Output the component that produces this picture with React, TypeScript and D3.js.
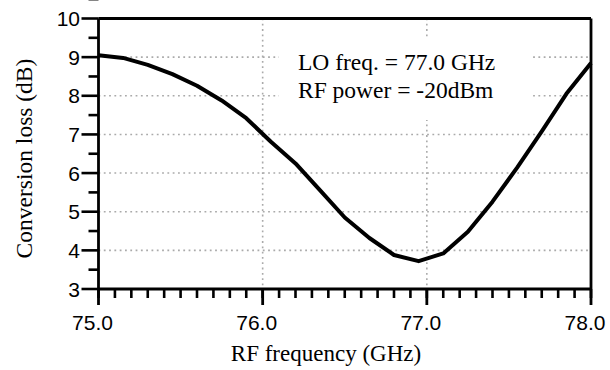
import React from "react";
import * as d3 from "d3";

const freqs = [75.0, 75.15, 75.3, 75.45, 75.6, 75.75, 75.9, 76.05, 76.2, 76.35, 76.5, 76.65, 76.8, 76.95, 77.1, 77.25, 77.4, 77.55, 77.7, 77.85, 78.0];
const loss = [9.05, 8.98, 8.8, 8.56, 8.26, 7.88, 7.42, 6.81, 6.25, 5.55, 4.85, 4.32, 3.88, 3.72, 3.92, 4.48, 5.26, 6.14, 7.08, 8.05, 8.85];
const xTickLabels = ["75.0", "76.0", "77.0", "78.0"];
const xMajor = [75, 76, 77, 78];
const yMajor = [3, 4, 5, 6, 7, 8, 9, 10];
const yGrid = [4, 5, 6, 7, 8, 9];
const xGrid = [76, 77];
const noteLines = ["LO freq. = 77.0 GHz", "RF power = -20dBm"];

const W = 610, H = 370;
const L = 98.5, R = 591, T = 18.5, B = 289;

export default function App() {
  const x = d3.scaleLinear().domain([75, 78]).range([L, R]);
  const y = d3.scaleLinear().domain([3, 10]).range([B, T]);
  const xMinor = d3.range(0, 31).map((i) => 75 + i * 0.1);
  const yMinor = d3.range(0, 8).map((i) => 3.5 + i);
  const line = d3.line<number>().x((_, i) => x(freqs[i])).y((d) => y(d));
  const sans = "'Liberation Sans', Arial, sans-serif";
  const serif = "'Liberation Serif', 'Times New Roman', serif";
  const grid = { stroke: "#aaaaaa", strokeWidth: 1.6, strokeDasharray: "1.8 3.5" };
  return (
    <svg width={W} height={H} style={{ position: "absolute", left: 0, top: 0, background: "#fff" }}>
      <defs>
        <clipPath id="clip75">
          <rect x={0} y={300} width={x(75) + 16} height={40} />
        </clipPath>
      </defs>
      <rect width={W} height={H} fill="#fff" />
      {yGrid.map((v) => (
        <line key={"gy" + v} x1={L} x2={R} y1={y(v)} y2={y(v)} {...grid} />
      ))}
      {xGrid.map((v) => (
        <line key={"gx" + v} x1={x(v)} x2={x(v)} y1={T} y2={B} {...grid} />
      ))}
      <rect x={279} y={37} width={252} height={83} fill="#fff" />
      {noteLines.map((t, i) => (
        <text key={t} x={298} y={70 + i * 28} fontFamily={serif} fontSize={23.5} fill="#000">
          {t}
        </text>
      ))}
      <path d={line(loss) || ""} fill="none" stroke="#000" strokeWidth={4} strokeLinejoin="round" />
      {/* frame */}
      <line x1={L} x2={R} y1={T} y2={T} stroke="#000" strokeWidth={2.8} />
      <line x1={R} x2={R} y1={T} y2={B} stroke="#000" strokeWidth={2.8} />
      <line x1={L} x2={R} y1={B} y2={B} stroke="#000" strokeWidth={2.8} />
      <line x1={L} x2={L} y1={T} y2={B} stroke="#000" strokeWidth={2.8} />
      {yMajor.map((v) => (
        <line key={"ty" + v} x1={L - 17} x2={L} y1={y(v)} y2={y(v)} stroke="#000" strokeWidth={2.6} />
      ))}
      {yMinor.map((v) => (
        <line key={"tym" + v} x1={L - 10} x2={L} y1={y(v)} y2={y(v)} stroke="#000" strokeWidth={2.6} />
      ))}
      {xMinor.map((v, i) => (
        <line key={"txm" + i} x1={x(v)} x2={x(v)} y1={B} y2={B + 9} stroke="#000" strokeWidth={2.6} />
      ))}
      {xMajor.map((v) => (
        <line key={"tx" + v} x1={x(v)} x2={x(v)} y1={B} y2={B + 16} stroke="#000" strokeWidth={2.8} />
      ))}
      {yMajor.map((v) => (
        <text key={"ly" + v} x={L - 18.5} y={y(v) + 7.5} textAnchor="end" fontFamily={sans} fontSize={21} fill="#000">
          {v}
        </text>
      ))}
      {xMajor.map((v, i) => (
        <text
          key={"lx" + v}
          x={x(v) - 6}
          y={330}
          textAnchor="middle"
          fontFamily={sans}
          fontSize={21}
          fill="#000"
          clipPath={i === 0 ? "url(#clip75)" : undefined}
        >
          {xTickLabels[i]}
        </text>
      ))}
      <text x={326} y={361} textAnchor="middle" fontFamily={serif} fontSize={23} fill="#000">
        RF frequency (GHz)
      </text>
      <text
        transform={`translate(31.5,158.5) rotate(-90)`}
        textAnchor="middle"
        fontFamily={serif}
        fontSize={23.5}
        fill="#000"
      >
        Conversion loss (dB)
      </text>
    </svg>
  );
}
